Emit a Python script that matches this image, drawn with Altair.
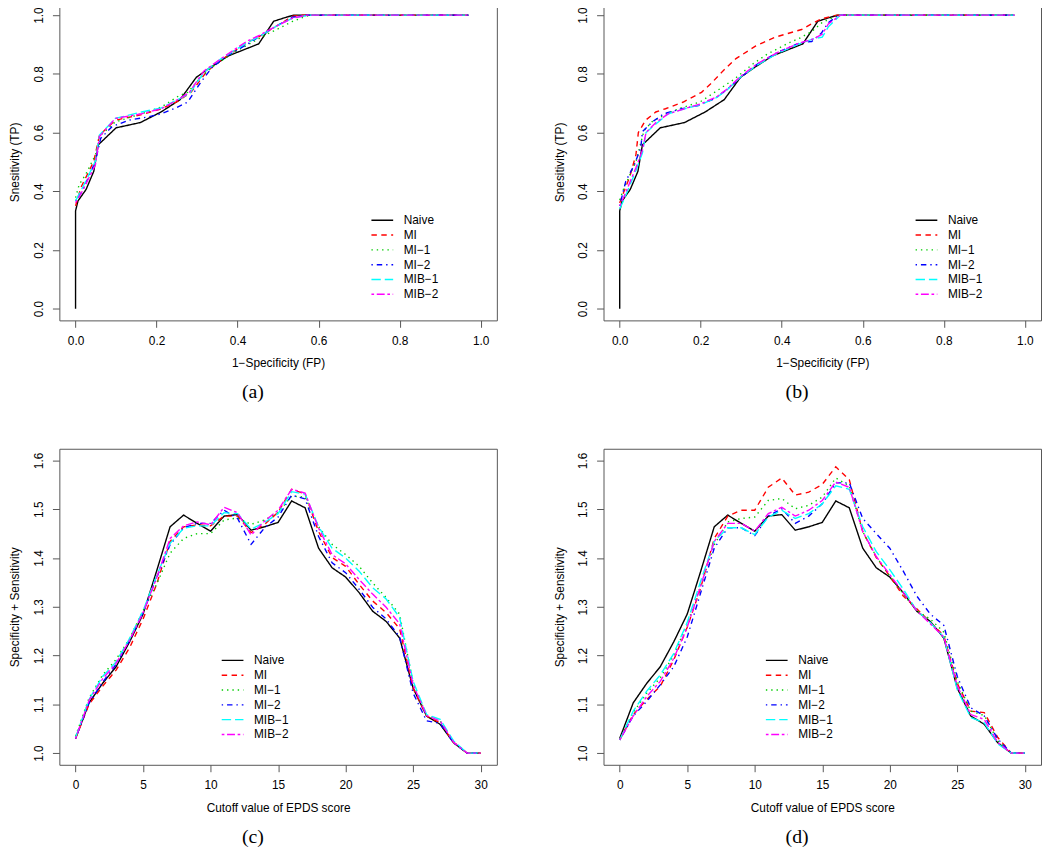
import altair as alt
import pandas as pd

SERIES = ["Naive", "MI", "MI\u22121", "MI\u22122", "MIB\u22121", "MIB\u22122"]
COLORS = ["#000000", "#FF0000", "#00CD00", "#0000FF", "#00FFFF", "#FF00FF"]
DASHES = [[1, 0], [5.5, 4.5], [1.4, 4], [1.4, 4, 5.5, 4], [9.5, 4], [2.7, 2.7, 8, 2.7]]

# ---------- ROC curves: Naive (same in panels a and b) ----------
naive_fp = [0.0, 0.0, 0.006, 0.026, 0.045, 0.056, 0.100, 0.160, 0.211, 0.258, 0.298, 0.333, 0.377, 0.452, 0.489, 0.523, 0.540, 0.970]
naive_tp = [0.0, 0.333, 0.367, 0.406, 0.468, 0.558, 0.616, 0.634, 0.670, 0.712, 0.788, 0.822, 0.861, 0.902, 0.979, 0.994, 1.0, 1.0]

# panel (a)
a_mi_fp = [0.0, 0.013, 0.045, 0.059, 0.098, 0.163, 0.212, 0.252, 0.285, 0.325, 0.374, 0.423, 0.455, 0.495, 0.536, 0.560, 0.970]
a_mi_tp = [0.350, 0.412, 0.502, 0.591, 0.642, 0.661, 0.681, 0.706, 0.737, 0.810, 0.861, 0.906, 0.928, 0.962, 0.996, 1.0, 1.0]
a_mi1_fp = [0.0, 0.009, 0.025, 0.049, 0.062, 0.098, 0.163, 0.212, 0.256, 0.277, 0.309, 0.341, 0.390, 0.440, 0.471, 0.504, 0.536, 0.569, 0.585, 0.970]
a_mi1_tp = [0.378, 0.423, 0.457, 0.524, 0.591, 0.636, 0.664, 0.687, 0.726, 0.737, 0.788, 0.827, 0.872, 0.910, 0.934, 0.956, 0.979, 0.996, 1.0, 1.0]
a_mi2_fp = [0.0, 0.017, 0.049, 0.062, 0.090, 0.131, 0.179, 0.212, 0.248, 0.277, 0.309, 0.337, 0.374, 0.423, 0.455, 0.495, 0.536, 0.573, 0.970]
a_mi2_tp = [0.367, 0.401, 0.502, 0.580, 0.620, 0.642, 0.653, 0.664, 0.684, 0.704, 0.771, 0.822, 0.861, 0.900, 0.928, 0.962, 0.993, 1.0, 1.0]
a_mib1_fp = [0.0, 0.017, 0.049, 0.059, 0.098, 0.163, 0.212, 0.256, 0.281, 0.317, 0.358, 0.423, 0.455, 0.495, 0.536, 0.577, 0.970]
a_mib1_tp = [0.367, 0.412, 0.502, 0.591, 0.648, 0.670, 0.684, 0.715, 0.732, 0.805, 0.850, 0.906, 0.928, 0.962, 0.990, 1.0, 1.0]
a_mib2_fp = [0.0, 0.017, 0.049, 0.059, 0.098, 0.163, 0.212, 0.256, 0.281, 0.317, 0.374, 0.423, 0.455, 0.495, 0.536, 0.573, 0.970]
a_mib2_tp = [0.361, 0.401, 0.490, 0.586, 0.648, 0.664, 0.681, 0.715, 0.737, 0.810, 0.866, 0.911, 0.932, 0.962, 0.990, 1.0, 1.0]

# panel (b)
b_mi_fp = [0.0, 0.005, 0.025, 0.040, 0.046, 0.064, 0.089, 0.113, 0.157, 0.202, 0.224, 0.255, 0.287, 0.336, 0.384, 0.449, 0.480, 0.498, 0.535, 0.975]
b_mi_tp = [0.360, 0.380, 0.450, 0.524, 0.600, 0.642, 0.670, 0.681, 0.704, 0.737, 0.765, 0.810, 0.852, 0.895, 0.925, 0.951, 0.975, 0.987, 1.0, 1.0]
b_mi1_fp = [0.0, 0.010, 0.040, 0.060, 0.080, 0.117, 0.150, 0.198, 0.230, 0.283, 0.330, 0.364, 0.417, 0.445, 0.475, 0.500, 0.540, 0.975]
b_mi1_tp = [0.370, 0.410, 0.500, 0.607, 0.637, 0.664, 0.683, 0.704, 0.733, 0.782, 0.835, 0.867, 0.905, 0.922, 0.945, 0.975, 1.0, 1.0]
b_mi2_fp = [0.0, 0.007, 0.015, 0.036, 0.052, 0.056, 0.080, 0.109, 0.153, 0.194, 0.234, 0.267, 0.299, 0.340, 0.388, 0.445, 0.474, 0.498, 0.514, 0.540, 0.975]
b_mi2_tp = [0.350, 0.390, 0.434, 0.490, 0.547, 0.603, 0.636, 0.664, 0.681, 0.692, 0.715, 0.749, 0.788, 0.833, 0.872, 0.906, 0.910, 0.939, 0.973, 1.0, 1.0]
b_mib1_fp = [0.0, 0.010, 0.040, 0.056, 0.065, 0.090, 0.120, 0.160, 0.200, 0.240, 0.265, 0.299, 0.340, 0.390, 0.440, 0.480, 0.500, 0.515, 0.545, 0.975]
b_mib1_tp = [0.340, 0.370, 0.470, 0.530, 0.600, 0.630, 0.664, 0.681, 0.695, 0.720, 0.745, 0.790, 0.830, 0.870, 0.900, 0.920, 0.925, 0.960, 1.0, 1.0]
b_mib2_fp = [0.0, 0.010, 0.040, 0.056, 0.065, 0.090, 0.120, 0.160, 0.200, 0.240, 0.265, 0.299, 0.340, 0.390, 0.440, 0.480, 0.500, 0.515, 0.545, 0.975]
b_mib2_tp = [0.350, 0.380, 0.480, 0.540, 0.600, 0.635, 0.664, 0.681, 0.698, 0.722, 0.748, 0.792, 0.835, 0.873, 0.903, 0.920, 0.935, 0.970, 1.0, 1.0]

# ---------- Specificity + Sensitivity by cutoff ----------
cutoff = [0, 1, 2, 3, 4, 5, 6, 7, 8, 9, 10, 11, 12, 13, 14, 15, 16, 17, 18, 19, 20,
          21, 22, 23, 24, 25, 26, 27, 28, 29, 30]
naive_sum = [1.030, 1.103, 1.143, 1.177, 1.228, 1.285, 1.373, 1.464, 1.488, 1.471, 1.455, 1.486, 1.489, 1.457, 1.464, 1.473, 1.517, 1.503, 1.420, 1.380, 1.361, 1.329, 1.291, 1.270, 1.236, 1.133, 1.076, 1.059, 1.021, 1.000, 1.000]

c_mi = [1.030, 1.100, 1.137, 1.170, 1.216, 1.275, 1.346, 1.434, 1.464, 1.468, 1.466, 1.486, 1.486, 1.452, 1.469, 1.494, 1.541, 1.531, 1.454, 1.401, 1.383, 1.346, 1.312, 1.288, 1.255, 1.133, 1.076, 1.062, 1.022, 1.000, 1.000]
c_mi1 = [1.035, 1.113, 1.160, 1.192, 1.235, 1.292, 1.346, 1.410, 1.440, 1.450, 1.450, 1.478, 1.482, 1.469, 1.478, 1.493, 1.527, 1.525, 1.464, 1.428, 1.407, 1.383, 1.349, 1.319, 1.285, 1.143, 1.077, 1.066, 1.022, 1.000, 1.000]
c_mi2 = [1.030, 1.103, 1.145, 1.182, 1.231, 1.288, 1.359, 1.427, 1.462, 1.471, 1.471, 1.498, 1.481, 1.428, 1.462, 1.484, 1.529, 1.521, 1.444, 1.390, 1.370, 1.336, 1.299, 1.275, 1.238, 1.123, 1.066, 1.061, 1.021, 1.000, 1.000]
c_mib1 = [1.032, 1.110, 1.157, 1.187, 1.235, 1.292, 1.363, 1.430, 1.461, 1.466, 1.466, 1.493, 1.491, 1.459, 1.473, 1.491, 1.536, 1.531, 1.464, 1.420, 1.400, 1.373, 1.339, 1.316, 1.278, 1.147, 1.079, 1.069, 1.025, 1.000, 1.000]
c_mib2 = [1.030, 1.108, 1.152, 1.184, 1.231, 1.288, 1.359, 1.440, 1.466, 1.474, 1.468, 1.504, 1.493, 1.447, 1.476, 1.498, 1.541, 1.533, 1.461, 1.407, 1.388, 1.356, 1.326, 1.299, 1.265, 1.140, 1.077, 1.066, 1.022, 1.000, 1.000]

d_mi = [1.027, 1.079, 1.110, 1.137, 1.191, 1.258, 1.339, 1.440, 1.486, 1.498, 1.498, 1.545, 1.564, 1.529, 1.535, 1.551, 1.587, 1.561, 1.454, 1.401, 1.363, 1.322, 1.296, 1.268, 1.241, 1.143, 1.086, 1.083, 1.032, 1.000, 1.000]
d_mi1 = [1.027, 1.083, 1.123, 1.154, 1.201, 1.265, 1.343, 1.427, 1.474, 1.481, 1.484, 1.518, 1.522, 1.501, 1.508, 1.525, 1.564, 1.548, 1.454, 1.403, 1.363, 1.326, 1.292, 1.275, 1.248, 1.147, 1.086, 1.077, 1.025, 1.000, 1.000]
d_mi2 = [1.027, 1.076, 1.106, 1.140, 1.177, 1.238, 1.329, 1.420, 1.462, 1.462, 1.446, 1.486, 1.501, 1.471, 1.486, 1.511, 1.554, 1.554, 1.481, 1.450, 1.420, 1.373, 1.322, 1.285, 1.262, 1.157, 1.093, 1.076, 1.029, 1.000, 1.000]
d_mib1 = [1.027, 1.086, 1.127, 1.160, 1.204, 1.268, 1.353, 1.434, 1.462, 1.462, 1.448, 1.484, 1.498, 1.481, 1.491, 1.511, 1.548, 1.541, 1.464, 1.413, 1.376, 1.336, 1.292, 1.268, 1.238, 1.130, 1.073, 1.062, 1.019, 1.000, 1.000]
d_mib2 = [1.027, 1.076, 1.116, 1.147, 1.194, 1.258, 1.343, 1.434, 1.471, 1.471, 1.455, 1.491, 1.504, 1.486, 1.498, 1.518, 1.556, 1.545, 1.454, 1.403, 1.366, 1.329, 1.292, 1.265, 1.238, 1.138, 1.079, 1.069, 1.022, 1.000, 1.000]

roc_ticks = [0.0, 0.2, 0.4, 0.6, 0.8, 1.0]
cut_ticks = [0, 5, 10, 15, 20, 25, 30]
sum_ticks = [1.0, 1.1, 1.2, 1.3, 1.4, 1.5, 1.6]


def build(pairs):
    rows = []
    for name, (xs, ys) in zip(SERIES, pairs):
        for i, (xv, yv) in enumerate(zip(xs, ys)):
            rows.append({"x": xv, "y": yv, "series": name, "i": i})
    return pd.DataFrame(rows)


df_a = build([(naive_fp, naive_tp), (a_mi_fp, a_mi_tp), (a_mi1_fp, a_mi1_tp),
              (a_mi2_fp, a_mi2_tp), (a_mib1_fp, a_mib1_tp), (a_mib2_fp, a_mib2_tp)])
df_b = build([(naive_fp, naive_tp), (b_mi_fp, b_mi_tp), (b_mi1_fp, b_mi1_tp),
              (b_mi2_fp, b_mi2_tp), (b_mib1_fp, b_mib1_tp), (b_mib2_fp, b_mib2_tp)])
df_c = build([(cutoff, naive_sum), (cutoff, c_mi), (cutoff, c_mi1),
              (cutoff, c_mi2), (cutoff, c_mib1), (cutoff, c_mib2)])
df_d = build([(cutoff, naive_sum), (cutoff, d_mi), (cutoff, d_mi1),
              (cutoff, d_mi2), (cutoff, d_mib1), (cutoff, d_mib2)])

W = 443


def panel(df, xdom, ydom, xvals, yvals, xtitle, ytitle, xfmt, caption, lx, ly, h):
    leg = alt.Legend(title=None, orient="none", legendX=lx, legendY=ly,
                     symbolType="M-1.42,0L1.42,0", symbolSize=240, symbolStrokeWidth=1.4,
                     labelFont="Liberation Sans", labelFontSize=12, labelColor="black",
                     labelOffset=13.2, padding=0, rowPadding=0)
    return alt.Chart(
        df,
        title=alt.TitleParams(caption, orient="bottom", anchor="middle", frame="bounds",
                              font="Liberation Serif", fontSize=20, fontWeight="normal",
                              color="black", offset=14),
    ).mark_line(strokeWidth=1.4, clip=True).encode(
        x=alt.X("x:Q", scale=alt.Scale(domain=xdom, nice=False, zero=False),
                axis=alt.Axis(values=xvals, format=xfmt, title=xtitle)),
        y=alt.Y("y:Q", scale=alt.Scale(domain=ydom, nice=False, zero=False),
                axis=alt.Axis(values=yvals, format=".1f", title=ytitle)),
        color=alt.Color("series:N", scale=alt.Scale(domain=SERIES, range=COLORS), legend=leg),
        strokeDash=alt.StrokeDash("series:N", scale=alt.Scale(domain=SERIES, range=DASHES), legend=leg),
        order=alt.Order("i:Q"),
    ).properties(width=W, height=h)


roc_x = "1\u2212Specificity (FP)"
roc_y = "Snesitivity (TP)"
cut_x = "Cutoff value of EPDS score"
cut_y = "Specificity + Sensitivity"

pa = panel(df_a, [-0.04, 1.04], [-0.04, 1.04], roc_ticks, roc_ticks, roc_x, roc_y, ".1f", "(a)", 318.5, 211.1, 321)
pb = panel(df_b, [-0.04, 1.04], [-0.04, 1.04], roc_ticks, roc_ticks, roc_x, roc_y, ".1f", "(b)", 318.5, 211.1, 321)
pc = panel(df_c, [-1.2, 31.2], [0.976, 1.624], cut_ticks, sum_ticks, cut_x, cut_y, "d", "(c)", 166.9, 205.8, 320)
pd_ = panel(df_d, [-1.2, 31.2], [0.976, 1.624], cut_ticks, sum_ticks, cut_x, cut_y, "d", "(d)", 166.9, 205.8, 320)

ind = dict(color="independent", strokeDash="independent")
row1 = alt.hconcat(pa, pb, spacing=55).resolve_scale(**ind).resolve_legend(color="independent", strokeDash="independent")
row2 = alt.hconcat(pc, pd_, spacing=55).resolve_scale(**ind).resolve_legend(color="independent", strokeDash="independent")

chart = alt.vconcat(row1, row2, spacing=45).resolve_scale(**ind).resolve_legend(
    color="independent", strokeDash="independent"
).properties(
    padding={"top": -11, "left": 0, "right": 0, "bottom": 0}, background="white"
).configure_axis(
    grid=False, domain=False, tickColor="#555555", tickSize=7, tickWidth=1,
    labelFont="Liberation Sans", labelFontSize=12, labelColor="black", labelFlush=False,
    titleFont="Liberation Sans", titleFontSize=12, titleFontWeight="normal", titleColor="black",
).configure_axisX(
    labelPadding=8, titlePadding=12, labelAngle=0
).configure_axisY(
    labelAngle=270, labelAlign="center", labelBaseline="bottom", labelPadding=7, titlePadding=11
).configure_view(stroke="#555555", strokeWidth=1, fill="white")

chart.save("out.html", embed_options={"renderer": "svg", "actions": False})
